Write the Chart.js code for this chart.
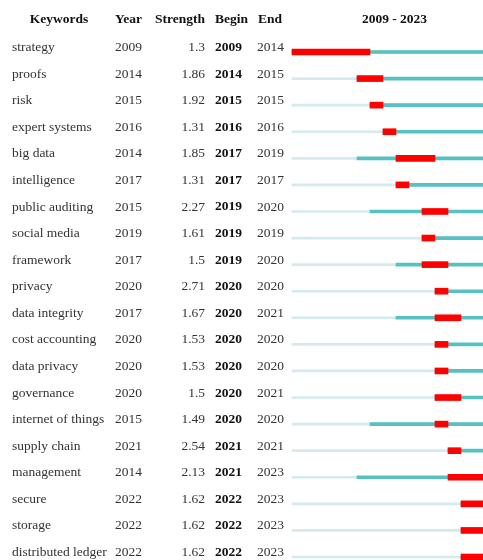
<!DOCTYPE html>
<html>
<head>
<meta charset="utf-8">
<script src="https://cdn.jsdelivr.net/npm/chart.js@4/dist/chart.umd.min.js"></script>
<style>
  html, body { margin: 0; padding: 0; background: #fff; overflow: hidden; width: 483px; height: 560px; }
  #wrap { width: 495px; height: 580px; }
</style>
</head>
<body>
<div id="wrap"><canvas id="c" width="495" height="580"></canvas></div>
<script>
// Top 20 keywords with the strongest citation bursts, 2009 - 2023
const keywords = ["strategy", "proofs", "risk", "expert systems", "big data", "intelligence",
  "public auditing", "social media", "framework", "privacy", "data integrity", "cost accounting",
  "data privacy", "governance", "internet of things", "supply chain", "management", "secure",
  "storage", "distributed ledger"];
const firstYear = [2009, 2014, 2015, 2016, 2014, 2017, 2015, 2019, 2017, 2020, 2017, 2020,
  2020, 2020, 2015, 2021, 2014, 2022, 2022, 2022];
const strength = ["1.3", "1.86", "1.92", "1.31", "1.85", "1.31", "2.27", "1.61", "1.5", "2.71",
  "1.67", "1.53", "1.53", "1.5", "1.49", "2.54", "2.13", "1.62", "1.62", "1.62"];
const burstBegin = [2009, 2014, 2015, 2016, 2017, 2017, 2019, 2019, 2019, 2020, 2020, 2020,
  2020, 2020, 2020, 2021, 2021, 2022, 2022, 2022];
const burstEnd = [2014, 2015, 2015, 2016, 2019, 2017, 2020, 2019, 2020, 2020, 2021, 2020,
  2020, 2021, 2020, 2021, 2023, 2023, 2023, 2023];
const startYear = 2009;
const endYear = 2023;

const RED = "#ff0000";
const TEAL = "#55c1c1";
const LIGHT = "#d3ebec";

// each year occupies a full slot, so a span ends at year + 1
const burstSpans = burstBegin.map((b, i) => [b, burstEnd[i] + 1]);
const activeSpans = firstYear.map(y => [y, endYear + 1]);
const fullSpans = keywords.map(() => [startYear, endYear + 1]);

const serif = '"Liberation Serif", "Times New Roman", serif';

const tablePlugin = {
  id: "burstTable",
  afterDraw(chart) {
    const ctx = chart.ctx;
    const y = chart.scales.y;
    const x = chart.scales.x;
    ctx.save();
    ctx.textBaseline = "middle";
    ctx.fillStyle = "#111";
    ctx.font = "bold 13.5px " + serif;
    const hy = 20;
    ctx.textAlign = "center";
    ctx.fillText("Keywords", 59, hy);
    ctx.textAlign = "left";
    ctx.fillText("Year", 115, hy);
    ctx.textAlign = "right";
    ctx.fillText("Strength", 205, hy);
    ctx.textAlign = "left";
    ctx.fillText("Begin", 215, hy);
    ctx.fillText("End", 258, hy);
    ctx.textAlign = "center";
    ctx.fillText(startYear + " - " + endYear, (x.getPixelForValue(startYear) + x.getPixelForValue(endYear + 1)) / 2 + 5, hy);

    keywords.forEach((k, i) => {
      const ty = y.getPixelForValue(i) - 4.5;
      ctx.fillStyle = "#333";
      ctx.font = "13.5px " + serif;
      ctx.textAlign = "left";
      ctx.fillText(k, 12, ty);
      ctx.fillText(String(firstYear[i]), 115, ty);
      ctx.textAlign = "right";
      ctx.fillText(strength[i], 205, ty);
      ctx.textAlign = "left";
      ctx.fillStyle = "#111";
      ctx.font = "bold 13.5px " + serif;
      ctx.fillText(String(burstBegin[i]), 215, ty);
      ctx.fillStyle = "#333";
      ctx.font = "13.5px " + serif;
      ctx.fillText(String(burstEnd[i]), 257, ty);
    });
    ctx.restore();
  }
};

new Chart(document.getElementById("c"), {
  type: "bar",
  data: {
    labels: keywords,
    datasets: [
      { label: "burst", data: burstSpans, backgroundColor: RED, barThickness: 6, grouped: false, clip: false },
      { label: "active", data: activeSpans, backgroundColor: TEAL, barThickness: 3, grouped: false, clip: false },
      { label: "timeline", data: fullSpans, backgroundColor: LIGHT, barThickness: 2, grouped: false, clip: false }
    ]
  },
  options: {
    indexAxis: "y",
    responsive: false,
    animation: false,
    layout: { padding: { left: 292, right: 8, top: 38.7, bottom: 9.7 } },
    scales: {
      x: { type: "linear", min: startYear, max: endYear + 1, display: false },
      y: { display: false, offset: true }
    },
    plugins: {
      legend: { display: false },
      tooltip: { enabled: false }
    }
  },
  plugins: [tablePlugin]
});
</script>
</body>
</html>
